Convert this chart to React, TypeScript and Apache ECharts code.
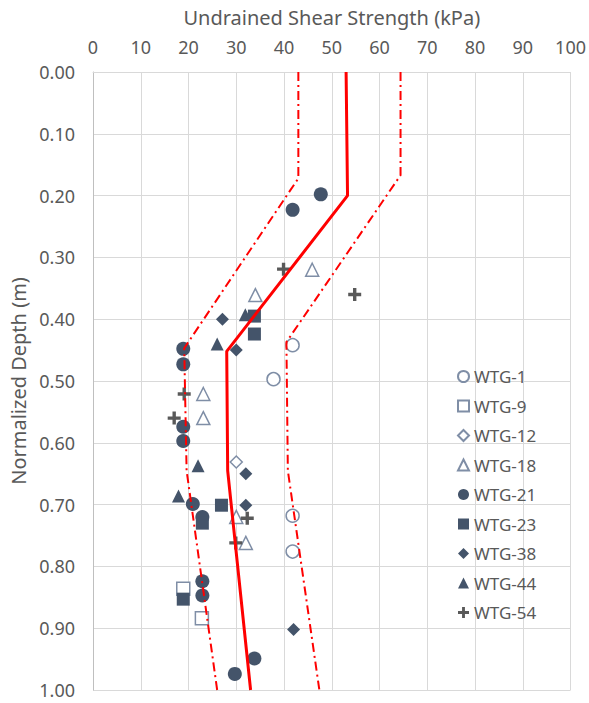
import React, { useEffect, useRef } from "react";
import * as echarts from "echarts";

const xTicks = [0, 10, 20, 30, 40, 50, 60, 70, 80, 90, 100];

const wtg1 = [[41.8, 0.442], [37.8, 0.497], [41.8, 0.718], [41.8, 0.776]];
const wtg9 = [[18.9, 0.836], [22.8, 0.884]];
const wtg12 = [[30.0, 0.631]];
const wtg18 = [[45.9, 0.32], [34.0, 0.361], [23.1, 0.521], [23.1, 0.56], [30.0, 0.72], [32.0, 0.762]];
const wtg21 = [
  [47.7, 0.198], [41.8, 0.223], [18.9, 0.448], [18.9, 0.473], [18.9, 0.574], [18.9, 0.597],
  [20.9, 0.699], [22.9, 0.72], [22.9, 0.824], [22.9, 0.847], [33.8, 0.949], [29.7, 0.974],
];
const wtg23 = [[33.8, 0.395], [33.8, 0.424], [26.9, 0.701], [22.9, 0.73], [18.9, 0.853]];
const wtg38 = [[27.1, 0.4], [30.0, 0.45], [32.0, 0.65], [32.0, 0.701], [42.0, 0.902]];
const wtg44 = [[31.9, 0.393], [26.0, 0.44], [22.0, 0.637], [17.9, 0.686]];
const wtg54 = [[39.9, 0.319], [54.8, 0.36], [19.1, 0.521], [17.0, 0.56], [32.3, 0.722], [29.9, 0.762]];

const meanLine = [[53.0, 0], [53.3, 0.2], [28.0, 0.452], [28.2, 0.645], [33.0, 1.0]];
const lowerBound = [[43.0, 0], [43.0, 0.172], [19.1, 0.447], [19.6, 0.645], [26.0, 1.0]];
const upperBound = [[64.4, 0], [64.4, 0.167], [40.5, 0.437], [40.8, 0.645], [47.4, 1.0]];

const FONT = "Noto Sans";
const TXT = "#595959";
const FILL = "#44546A";
const OPEN = "#7F8EA6";
const PLUS = "path://M3.7,0H6.3V3.7H10V6.3H6.3V10H3.7V6.3H0V3.7H3.7Z";

export default function App() {
  const ref = useRef<HTMLDivElement>(null);
  useEffect(() => {
    if (!ref.current) return;
    const chart = echarts.init(ref.current, undefined, { renderer: "svg" });
    const open = (name: string, symbol: string, data: number[][], size = 13) => ({
      name, type: "scatter", data, symbol, symbolSize: size,
      itemStyle: { color: "#ffffff", borderColor: OPEN, borderWidth: 1.5, opacity: 1 },
    });
    const filled = (name: string, symbol: string, data: number[][], size = 13, color = FILL) => ({
      name, type: "scatter", data, symbol, symbolSize: size,
      itemStyle: { color, opacity: 1 },
    });
    const line = (name: string, data: number[][], width: number, type: any) => ({
      name, type: "line", data, symbol: "none", silent: true,
      lineStyle: { color: "#FF0000", width, type },
    });
    chart.setOption({
      animation: false,
      textStyle: { fontFamily: FONT },
      grid: { left: 93, right: 15, top: 72, bottom: 13 },
      legend: {
        orient: "vertical",
        left: 452,
        top: 363,
        itemWidth: 11,
        itemHeight: 11,
        itemGap: 12.5,
        textStyle: { color: TXT, fontSize: 17, fontFamily: FONT },
        data: ["WTG-1", "WTG-9", "WTG-12", "WTG-18", "WTG-21", "WTG-23", "WTG-38", "WTG-44", "WTG-54"],
      },
      xAxis: {
        type: "value",
        position: "top",
        min: 0,
        max: 100,
        interval: 10,
        name: "Undrained Shear Strength (kPa)",
        nameLocation: "middle",
        nameGap: 44.5,
        nameTextStyle: { color: TXT, fontSize: 20, fontFamily: FONT },
        axisLine: { show: true, lineStyle: { color: "#D9D9D9" } },
        axisTick: { show: false },
        axisLabel: { color: TXT, fontSize: 18, margin: 16.5, fontFamily: FONT, formatter: (v: number) => (xTicks.includes(v) ? String(v) : "") },
        splitLine: { show: true, lineStyle: { color: "#D9D9D9", width: 1 } },
      },
      yAxis: {
        type: "value",
        inverse: true,
        min: 0,
        max: 1,
        interval: 0.1,
        name: "Normalized Depth (m)",
        nameLocation: "middle",
        nameGap: 62.5,
        nameTextStyle: { color: TXT, fontSize: 20, fontFamily: FONT },
        axisLine: { show: true, lineStyle: { color: "#BFBFBF" } },
        axisTick: { show: false },
        axisLabel: { color: TXT, fontSize: 18, margin: 18, fontFamily: FONT, formatter: (v: number) => v.toFixed(2) },
        splitLine: { show: true, lineStyle: { color: "#D9D9D9", width: 1 } },
      },
      series: [
        open("WTG-1", "circle", wtg1),
        open("WTG-9", "rect", wtg9),
        open("WTG-12", "diamond", wtg12, 12),
        open("WTG-18", "triangle", wtg18),
        filled("WTG-21", "circle", wtg21, 14),
        filled("WTG-23", "rect", wtg23),
        filled("WTG-38", "diamond", wtg38),
        filled("WTG-44", "triangle", wtg44),
        filled("WTG-54", PLUS, wtg54, 13, "#595959"),
        line("lower", lowerBound, 2, [9, 4, 2, 4]),
        line("upper", upperBound, 2, [9, 4, 2, 4]),
        line("mean", meanLine, 3, "solid"),
      ],
    });
    return () => chart.dispose();
  }, []);
  return <div ref={ref} style={{ position: "absolute", left: 0, top: 0, width: 589, height: 703 }} />;
}
